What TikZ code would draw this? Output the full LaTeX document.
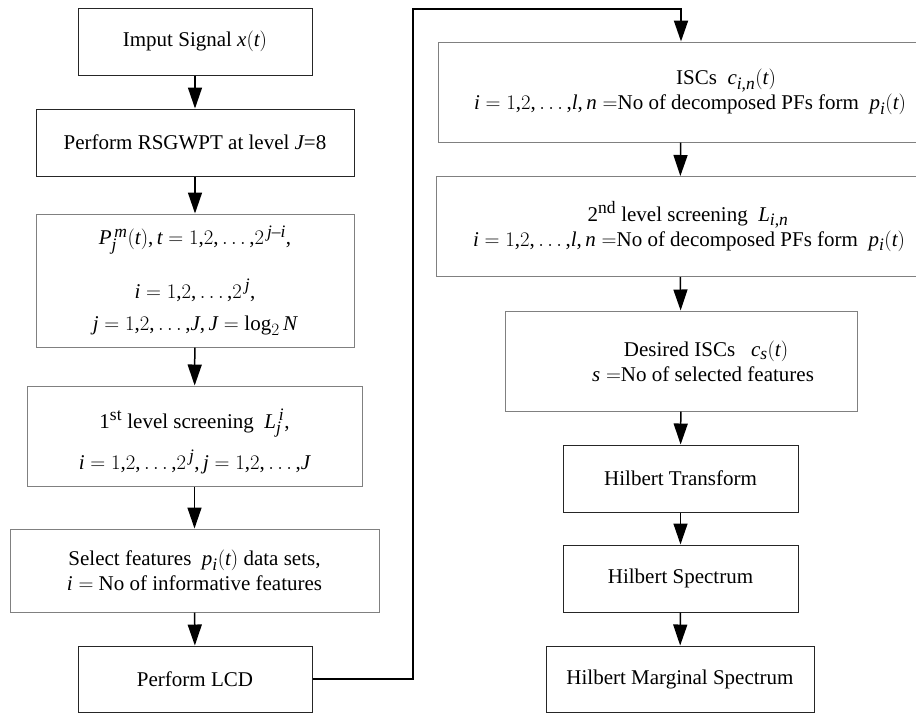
\documentclass[tikz,border=0pt]{standalone}
\usepackage{fontspec}
\setmainfont{Liberation Serif}
\usepackage[italic]{mathastext}
\usetikzlibrary{arrows.meta}

\tikzset{
  stage/.style={draw=black!85, line width=1pt, align=center, inner sep=0pt},
  stagegray/.style={stage, draw=black!50},
  flow/.style={line width=1.5pt, -{Triangle[length=21pt,width=14pt]}},
}

\begin{document}
\begin{tikzpicture}[x=1pt, y=-1pt, font=\fontsize{21}{25}\selectfont]
    \useasboundingbox (0,0) rectangle (916,713);

    % left column
    \node[stage, minimum width=234, minimum height=67] (in) at (195,41.5)
      {Imput Signal $x(t)$};
    \node[stage, minimum width=318, minimum height=67] (rsg) at (195,142.5)
      {Perform RSGWPT at level $J$=8};
    \node[stagegray, minimum width=318, minimum height=133] (pkt) at (195,280.5)
      {$P_j^{\,m}(t){,}\,t=1{,}2{,}\ldots{,}2^{\,j-i}$,\\[24pt]
       $i=1{,}2{,}\ldots{,}2^{\,j}$,\\[7pt]
       $j=1{,}2{,}\ldots{,}J{,}\,J=\log_2 N$};
    \node[stagegray, minimum width=335, minimum height=100] (scr1) at (194.5,436)
      {\rule{0pt}{30pt}1\textsuperscript{st} level screening \ $L_j^{\,i}$,\\[12pt]
       $i=1{,}2{,}\ldots{,}2^{\,j}{,}\,j=1{,}2{,}\ldots{,}J$};
    \node[stagegray, minimum width=369, minimum height=83] (sel) at (194.5,570.5)
      {Select features \ $p_i(t)$ data sets,\\
       $i=$ No of informative features};
    \node[stage, minimum width=234, minimum height=66] (lcd) at (195,679)
      {Perform LCD};

    % right column
    \node[stagegray, minimum width=486, minimum height=100] (isc) at (681,92)
      {\hspace*{90pt}ISCs \ $c_{i,n}(t)$\\
       \hspace*{18pt}$i=1{,}2{,}\ldots{,}l{,}\,n=$No of decomposed PFs form \ $p_i(t)$};
    \node[stagegray, minimum width=488, minimum height=100] (scr2) at (680,226.5)
      {\hspace*{16pt}2\textsuperscript{nd} level screening \ $L_{i,n}$\\
       \hspace*{18pt}$i=1{,}2{,}\ldots{,}l{,}\,n=$No of decomposed PFs form \ $p_i(t)$};
    \node[stagegray, minimum width=352, minimum height=100] (des) at (681,361)
      {\hspace*{50pt}Desired ISCs \ \ $c_s(t)$\\
       \hspace*{44pt}$s=$No of selected features};
    \node[stage, minimum width=235, minimum height=67] (ht) at (680.5,478.5)
      {Hilbert Transform};
    \node[stage, minimum width=235, minimum height=67] (hs) at (680.5,578.5)
      {Hilbert Spectrum};
    \node[stage, minimum width=268, minimum height=66] (hms) at (680,679)
      {Hilbert Marginal Spectrum};

    \draw[flow] (in) -- (rsg);
    \draw[flow] (rsg) -- (pkt);
    \draw[flow] (pkt) -- (scr1);
    \draw[flow] (scr1) -- (sel);
    \draw[flow] (sel) -- (lcd);

    % jump to the right column
    \coordinate (turn) at (413,9);
    \draw[flow, line width=2pt] (lcd.east) -| (turn) -| (isc.north);

    \draw[flow] (isc) -- (scr2);
    \draw[flow] (scr2) -- (des);
    \draw[flow] (des) -- (ht);
    \draw[flow] (ht) -- (hs);
    \draw[flow] (hs) -- (hms);
\end{tikzpicture}
\end{document}
